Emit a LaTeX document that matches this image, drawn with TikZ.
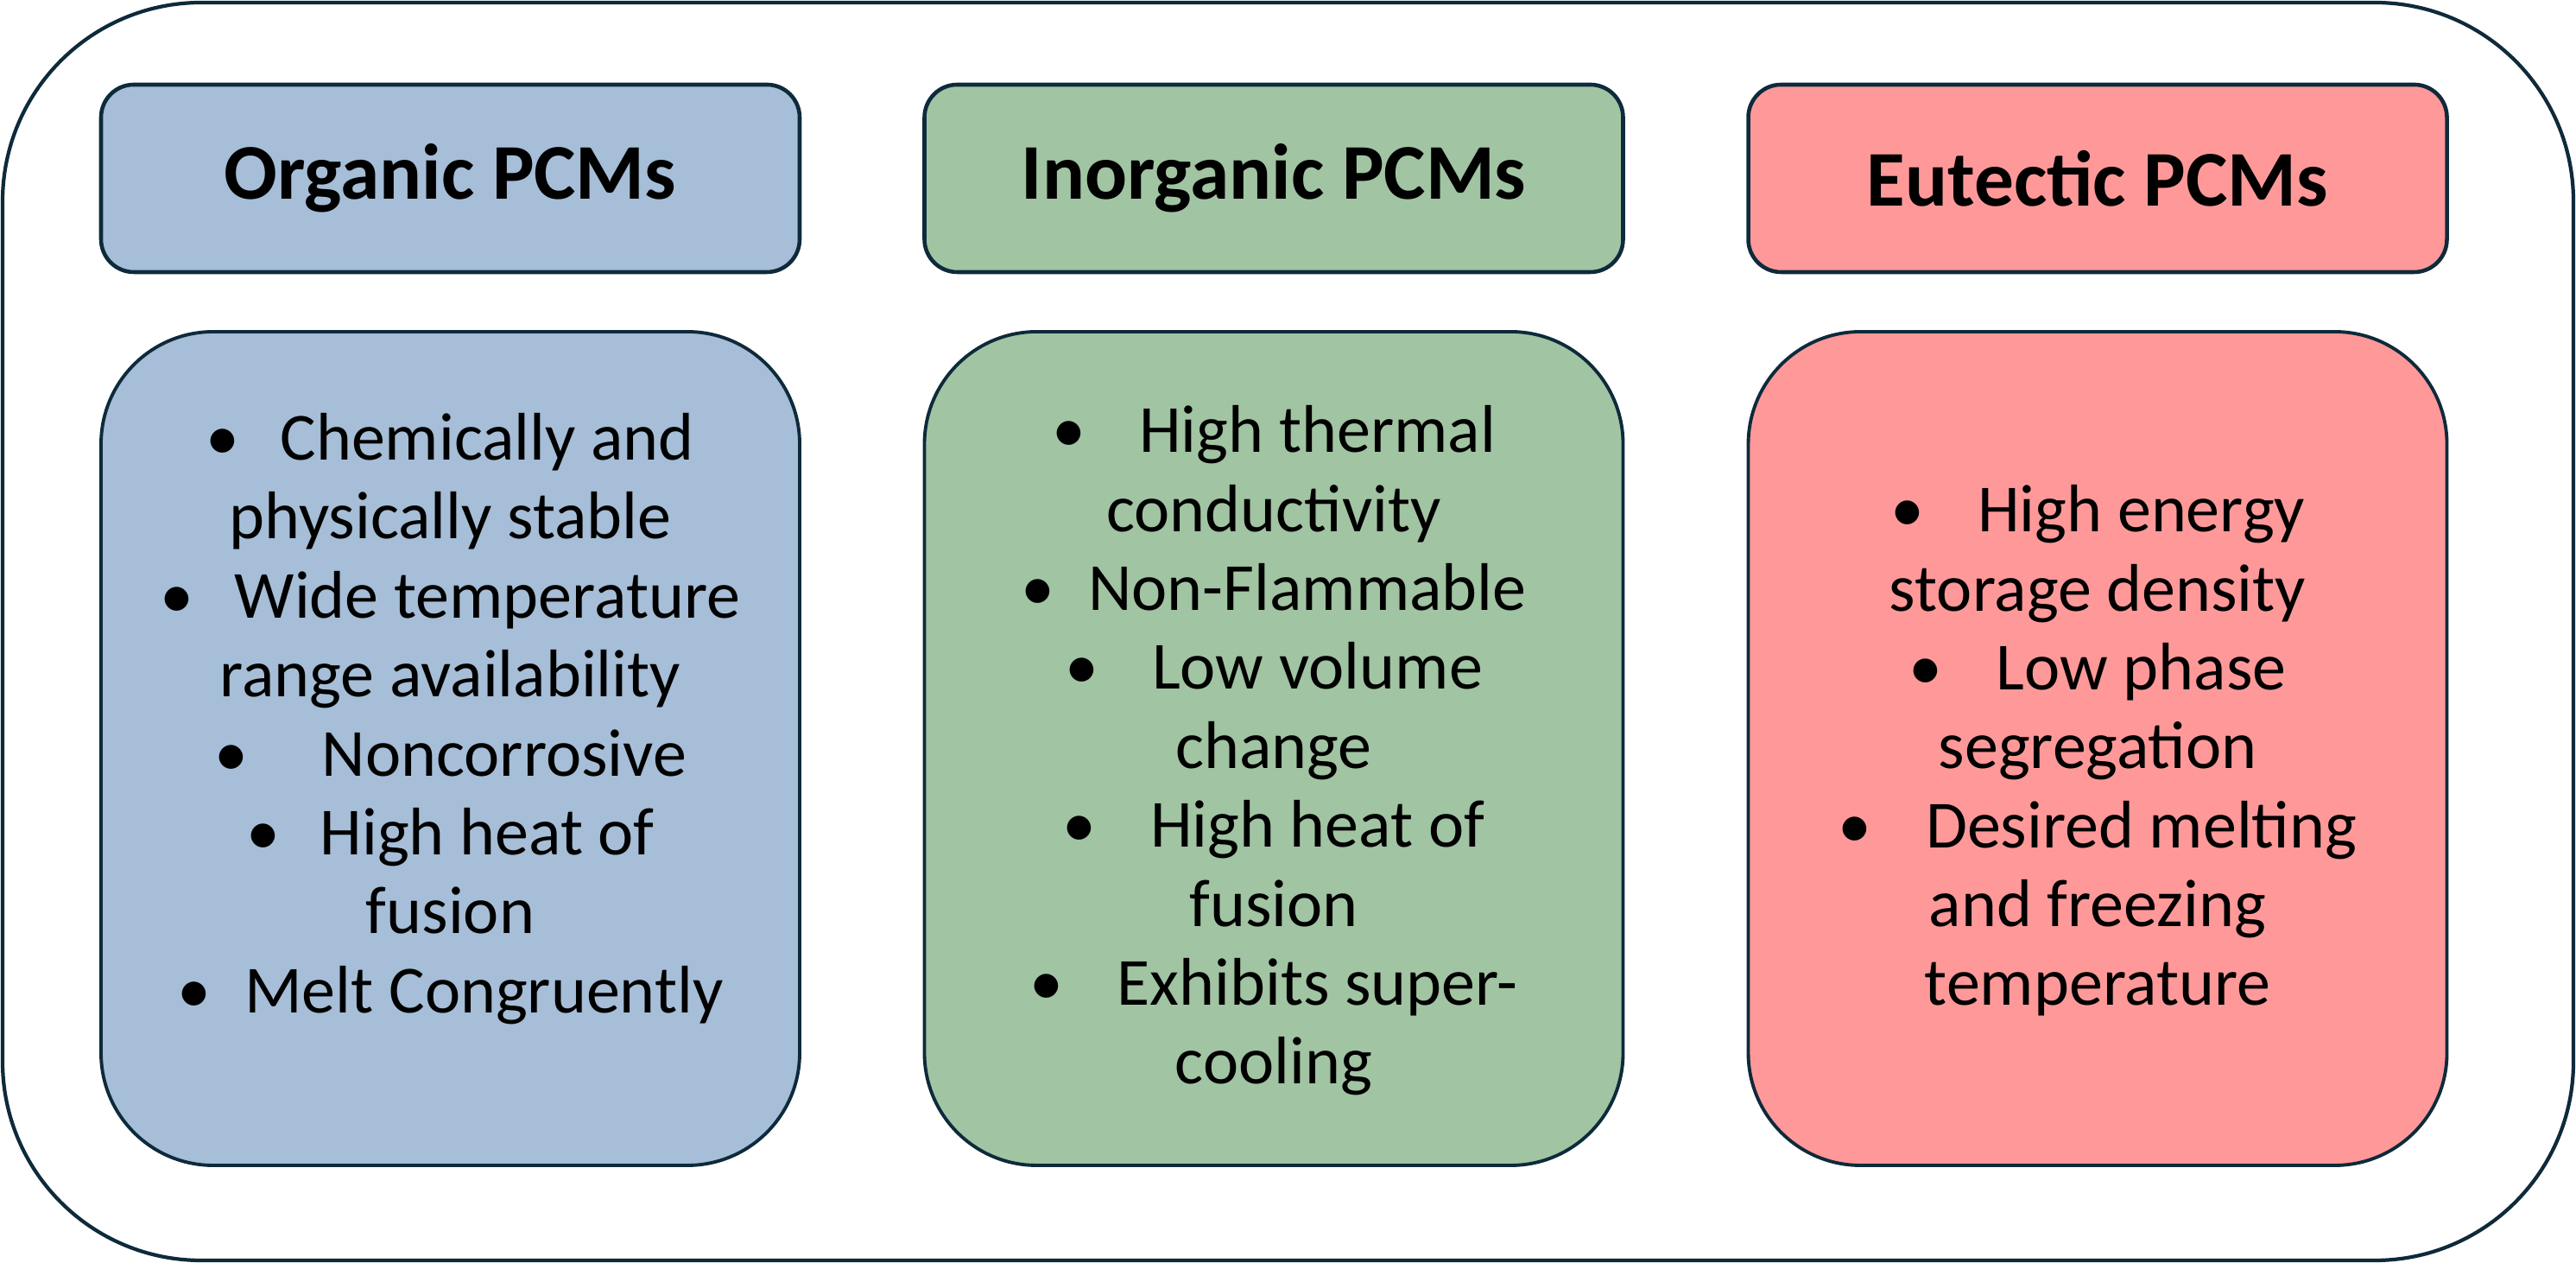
\documentclass[tikz,border=0pt]{standalone}
\usepackage{fontspec}
\usepackage{tikz}
\usepackage{xcolor}
\setmainfont{Carlito}

\definecolor{edge}{HTML}{0E2A3B}
\definecolor{orgblue}{HTML}{A6BED7}
\definecolor{inorggreen}{HTML}{A1C4A3}
\definecolor{eutpink}{HTML}{FF9999}

\tikzset{
  head/.style={draw=edge,line width=1.3pt,rounded corners=0.38cm,minimum width=8.09cm,minimum height=2.17cm,font=\fontsize{26}{30}\selectfont\bfseries},
  body/.style={draw=edge,line width=1.1pt,rounded corners=1.3cm,minimum width=8.09cm,minimum height=9.65cm},
  items/.style={align=center,font=\fontsize{22.2}{26}\selectfont}
}

\begin{document}
\begin{tikzpicture}
\useasboundingbox (0,0) rectangle (29.83,14.62);
\draw[edge,line width=1.2pt,rounded corners=2.3cm] (0.03,0.03) rectangle (29.80,14.59);

\node[head,fill=orgblue] (orghead) at (5.215,12.555) {Organic PCMs};
\node[head,fill=inorggreen] (inorghead) at (14.75,12.555) {Inorganic PCMs};
\node[head,fill=eutpink] (euthead) at (24.29,12.555) {Eutectic PCMs};

\node[body,fill=orgblue] (orgbody) at (5.215,5.955) {};
\node[body,fill=inorggreen] (inorgbody) at (14.75,5.955) {};
\node[body,fill=eutpink] (eutbody) at (24.29,5.955) {};

\node[items] (orgitems) at (5.215,6.30) {\textbullet\hspace{0.6em}Chemically and\\ physically stable\\
\textbullet\hspace{0.6em}Wide temperature\\ range availability\\
\textbullet\hspace{1.1em}Noncorrosive\\
\textbullet\hspace{0.6em}High heat of\\ fusion\\
\textbullet\hspace{0.5em}Melt Congruently};

\node[items] (inorgitems) at (14.75,5.93) {\textbullet\hspace{0.8em}High thermal\\ conductivity\\
\textbullet\hspace{0.5em}Non-Flammable\\
\textbullet\hspace{0.8em}Low volume\\ change\\
\textbullet\hspace{0.8em}High heat of\\ fusion\\
\textbullet\hspace{0.8em}Exhibits super-\\ cooling};

\node[items] (eutitems) at (24.29,5.93) {\textbullet\hspace{0.8em}High energy\\ storage density\\
\textbullet\hspace{0.8em}Low phase\\ segregation\\
\textbullet\hspace{0.8em}Desired melting\\ and freezing\\ temperature};

\end{tikzpicture}
\end{document}
